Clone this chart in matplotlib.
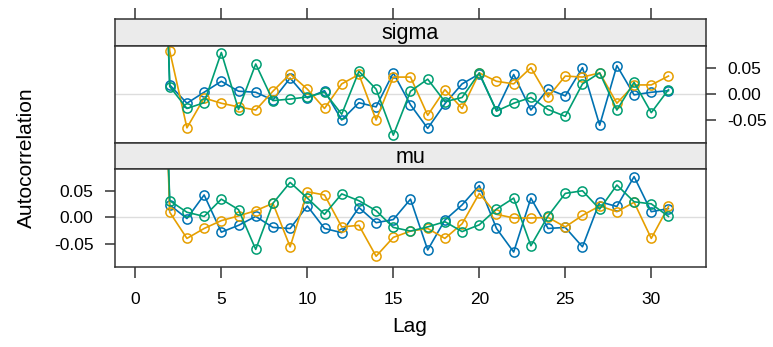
import numpy as np
import matplotlib
matplotlib.use("Agg")
import matplotlib.pyplot as plt

plt.rcParams['font.family'] = ['Liberation Sans', 'DejaVu Sans']

lags = np.arange(1, 32)

# sigma panel, one list per chain (lag 1 is always 1)
sigma_blue = [1, 0.017, -0.018, 0.003, 0.024, 0.005, 0.003, -0.012, 0.030, -0.008, 0.006,
              -0.050, -0.017, -0.025, 0.040, -0.021, -0.066, -0.019, 0.019, 0.038, -0.032,
              0.037, -0.031, 0.009, -0.004, 0.050, -0.060, 0.054, -0.002, 0.003, 0.006]
sigma_orange = [1, 0.082, -0.065, -0.008, -0.018, -0.025, -0.031, 0.005, 0.038, 0.009, -0.028,
                0.019, 0.037, -0.050, 0.032, 0.032, -0.041, 0.008, -0.028, 0.040, 0.024,
                0.019, 0.050, -0.006, 0.034, 0.032, 0.040, -0.018, 0.017, 0.017, 0.034]
sigma_green = [1, 0.014, -0.028, -0.017, 0.079, -0.030, 0.057, -0.013, -0.010, -0.006, 0.003,
               -0.039, 0.043, 0.009, -0.079, 0.005, 0.028, -0.015, -0.007, 0.040, -0.033,
               -0.018, -0.007, -0.030, -0.043, 0.019, 0.040, -0.031, 0.022, -0.036, 0.008]

# mu panel
mu_blue = [1, 0.024, -0.002, 0.043, -0.028, -0.015, 0.002, -0.019, -0.021, 0.022, -0.021,
           -0.029, 0.019, -0.010, -0.004, 0.035, -0.062, -0.005, 0.024, 0.061, -0.021,
           -0.066, 0.037, -0.021, -0.019, -0.056, 0.030, 0.021, 0.078, 0.011, 0.017]
mu_orange = [1, 0.010, -0.040, -0.021, -0.006, 0.003, 0.013, 0.027, -0.056, 0.049, 0.043,
             -0.018, -0.015, -0.074, -0.038, -0.026, -0.021, -0.040, -0.012, 0.046, 0.006,
             -0.001, -0.001, 0.000, -0.018, 0.004, 0.022, 0.011, 0.029, -0.040, 0.021]
mu_green = [1, 0.032, 0.010, 0.002, 0.035, 0.015, -0.061, 0.027, 0.067, 0.037, 0.006,
            0.045, 0.032, 0.013, -0.019, -0.026, -0.018, -0.008, -0.027, -0.014, 0.016,
            0.037, -0.054, 0.003, 0.046, 0.051, 0.016, 0.062, 0.030, 0.026, 0.002]

chain_colors = ['#0072B2', '#E69F00', '#009E73']
yticks = [-0.05, 0.0, 0.05]
xticks = [0, 5, 10, 15, 20, 25, 30]
xlim = (-1.2, 33.2)
ylim = (-0.094, 0.092)
frame = '#333333'

W, H = 773, 347
fig = plt.figure(figsize=(W / 100, H / 100), dpi=100)


def box(x0, y0, x1, y1):
    # pixel box (from top-left) -> figure fraction
    return [x0 / W, 1 - y1 / H, (x1 - x0) / W, (y1 - y0) / H]


def style(ax):
    for s in ax.spines.values():
        s.set_color(frame)
        s.set_linewidth(1.1)
    ax.tick_params(colors=frame, labelcolor='black', length=7.2, width=1.1,
                   labelsize=12.5, pad=8)


def strip(y0, y1, label, top_ticks=False):
    ax = fig.add_axes(box(114.7, y0, 706.3, y1))
    ax.set_facecolor('#EBEBEB')
    ax.set_xlim(*xlim)
    ax.set_yticks([])
    style(ax)
    if top_ticks:
        ax.set_xticks(xticks)
        ax.xaxis.tick_top()
        ax.tick_params(axis='x', labeltop=False, length=8)
    else:
        ax.set_xticks([])
    ax.text(0.5, 0.45, label, transform=ax.transAxes, ha='center', va='center', fontsize=15.5)
    return ax


def panel(y0, y1, series, side):
    ax = fig.add_axes(box(114.7, y0, 706.3, y1))
    ax.axhline(0, color='#DDDDDD', lw=1, zorder=0)
    for vals, c in zip(series, chain_colors):
        ax.plot(lags, vals, color=c, lw=1.2, marker='o', markersize=6.6,
                markerfacecolor='none', markeredgecolor=c, markeredgewidth=1.1)
    ax.set_xlim(*xlim)
    ax.set_ylim(*ylim)
    ax.set_yticks(yticks)
    ax.set_yticklabels(['-0.05', '0.00', '0.05'])
    style(ax)
    if side == 'right':
        ax.yaxis.tick_right()
    return ax


strip(19, 45.7, 'sigma', top_ticks=True)
ax1 = panel(45.7, 143, [sigma_blue, sigma_orange, sigma_green], 'right')
ax1.set_xticks([])
strip(143, 169.3, 'mu')
ax2 = panel(169.3, 266.7, [mu_blue, mu_orange, mu_green], 'left')
ax2.set_xticks(xticks)
ax2.tick_params(axis='x', length=8, pad=10)

fig.text(410 / W, 1 - 327 / H, 'Lag', ha='center', va='center', fontsize=15)
fig.text(26 / W, 1 - 158 / H, 'Autocorrelation', ha='center', va='center',
         rotation=90, fontsize=15)

fig.savefig('out.png', dpi=100)
